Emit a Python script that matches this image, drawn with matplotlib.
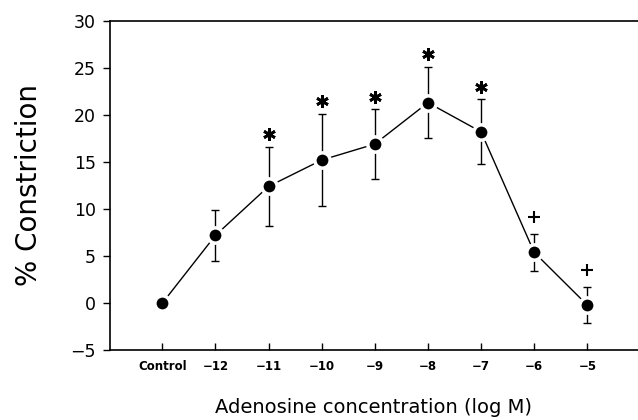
import numpy as np
import matplotlib
matplotlib.use('Agg')
import matplotlib.pyplot as plt

# data
labels = ['Control', '\u221212', '\u221211', '\u221210', '\u22129', '\u22128', '\u22127', '\u22126', '\u22125']
constriction = [0.0, 7.2, 12.4, 15.2, 16.9, 21.3, 18.2, 5.4, -0.2]
sem = [0.0, 2.7, 4.2, 4.9, 3.7, 3.8, 3.45, 2.0, 1.95]
signif = ['', '', '*', '*', '*', '*', '*', '+', '+']

x = np.arange(len(labels))

fig = plt.figure(figsize=(6.38, 4.2), dpi=100)
ax = fig.add_axes([0.1724, 0.166, 0.8276, 0.7847])

ax.errorbar(x, constriction, yerr=sem, fmt='none', ecolor='black',
            elinewidth=1.0, capsize=3, capthick=1.0, zorder=2)
ax.plot(x, constriction, color='black', lw=1.0, marker='o', markersize=11,
        markerfacecolor='black', markeredgecolor='white', markeredgewidth=2.5,
        zorder=3)

for xi, yi, ei, s in zip(x, constriction, sem, signif):
    if s == '*':
        ax.plot(xi, yi + ei + 1.35, marker=(6, 2, 0), markersize=9,
                markeredgewidth=2.0, color='black')
    elif s == '+':
        ax.plot(xi, yi + ei + 1.75, marker='+', markersize=9,
                markeredgewidth=1.5, color='black')

ax.set_xlim(-0.984, 8.954)
ax.set_ylim(-5, 30)
ax.set_yticks([-5, 0, 5, 10, 15, 20, 25, 30])
ax.set_yticklabels(['\u22125', '0', '5', '10', '15', '20', '25', '30'])
ax.set_xticks(x)
ax.set_xticklabels(labels, fontsize=8.5, fontweight='bold')
ax.tick_params(axis='y', direction='out', length=5, width=1, labelsize=12.5, pad=5)
ax.tick_params(axis='x', direction='in', length=5, width=1, pad=7)

ax.spines['right'].set_visible(False)
for sp in ['left', 'top', 'bottom']:
    ax.spines[sp].set_linewidth(1.2)

ax.set_ylabel('% Constriction', fontsize=20, labelpad=20)
ax.set_xlabel('Adenosine concentration (log M)', fontsize=14, labelpad=18)

fig.savefig('out.png', dpi=100)
